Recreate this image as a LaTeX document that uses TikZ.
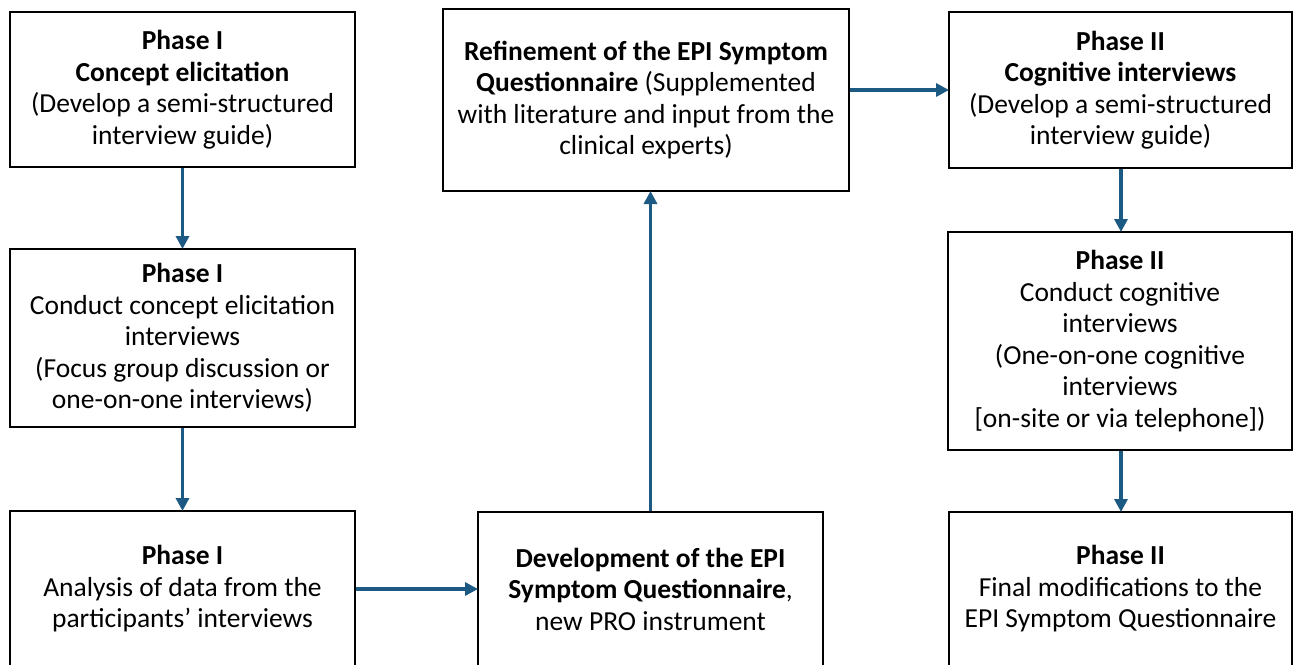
\documentclass[tikz,border=0pt]{standalone}
\usepackage{fontspec}
\setmainfont{Carlito}
\usepackage{tikz}
\usetikzlibrary{arrows,arrows.meta,positioning,calc}
\definecolor{flowblue}{RGB}{28,90,132}
\tikzstyle{every node}=[font=\fontsize{27.5}{31.5}\selectfont, text centered]
\tikzstyle{box} = [draw, line width=2pt, align=center, inner sep=0pt]
\tikzstyle{line} = [draw, flowblue, line width=3.2pt, -{Triangle[length=13pt,width=13pt]}, shorten >=-1pt]

\begin{document}
\begin{tikzpicture}[x=1pt,y=-1pt,line join=miter]
    \useasboundingbox (0,0) rectangle (1293,664);
    \clip (0,0) rectangle (1293,664);

    % left column
    \node [box, minimum width=345, minimum height=155] (conceptNode) at (182.5,89.5)
        {\textbf{Phase I}\\ \textbf{Concept elicitation}\\ (Develop a semi-structured\\ interview guide)};
    \node [box, minimum width=345, minimum height=178] (interviewNode) at (182.5,338)
        {\textbf{Phase I}\\ Conduct concept elicitation\\ interviews\\ (Focus group discussion or\\ one-on-one interviews)};
    \node [box, minimum width=345, minimum height=156] (analysisNode) at (182.5,589)
        {\textbf{Phase I}\\ Analysis of data from the\\ participants’ interviews};

    % middle column
    \node [box, minimum width=406, minimum height=182] (refineNode) at (646,100)
        {\textbf{Refinement of the EPI Symptom}\\ \textbf{Questionnaire} (Supplemented\\ with literature and input from the\\ clinical experts)};
    \node [box, minimum width=345, minimum height=154] (devNode) at (650.5,589)
        {\textbf{Development of the EPI}\\ \textbf{Symptom Questionnaire},\\ new PRO instrument};

    % right column
    \node [box, minimum width=343, minimum height=156] (cognitiveNode) at (1120.5,90)
        {\textbf{Phase II}\\ \textbf{Cognitive interviews}\\ (Develop a semi-structured\\ interview guide)};
    \node [box, minimum width=344, minimum height=218] (conductNode) at (1120,341)
        {\textbf{Phase II}\\ Conduct cognitive\\ interviews\\ (One-on-one cognitive\\ interviews\\ {[}on-site or via telephone{]})};
    \node [box, minimum width=343, minimum height=154] (finalNode) at (1120.5,589)
        {\textbf{Phase II}\\ Final modifications to the\\ EPI Symptom Questionnaire};

    \draw[line] (conceptNode) -- (interviewNode);
    \draw[line] (interviewNode) -- (analysisNode);
    \draw[line] (analysisNode) -- (devNode);
    \draw[line] (devNode.north) -- (devNode.north |- refineNode.south);
    \draw[line] (cognitiveNode.west -| refineNode.east) -- (cognitiveNode.west);
    \draw[line] (cognitiveNode.south -| 1121,0) -- (conductNode.north -| 1121,0);
    \draw[line] (conductNode.south -| 1121,0) -- (finalNode.north -| 1121,0);
\end{tikzpicture}
\end{document}
